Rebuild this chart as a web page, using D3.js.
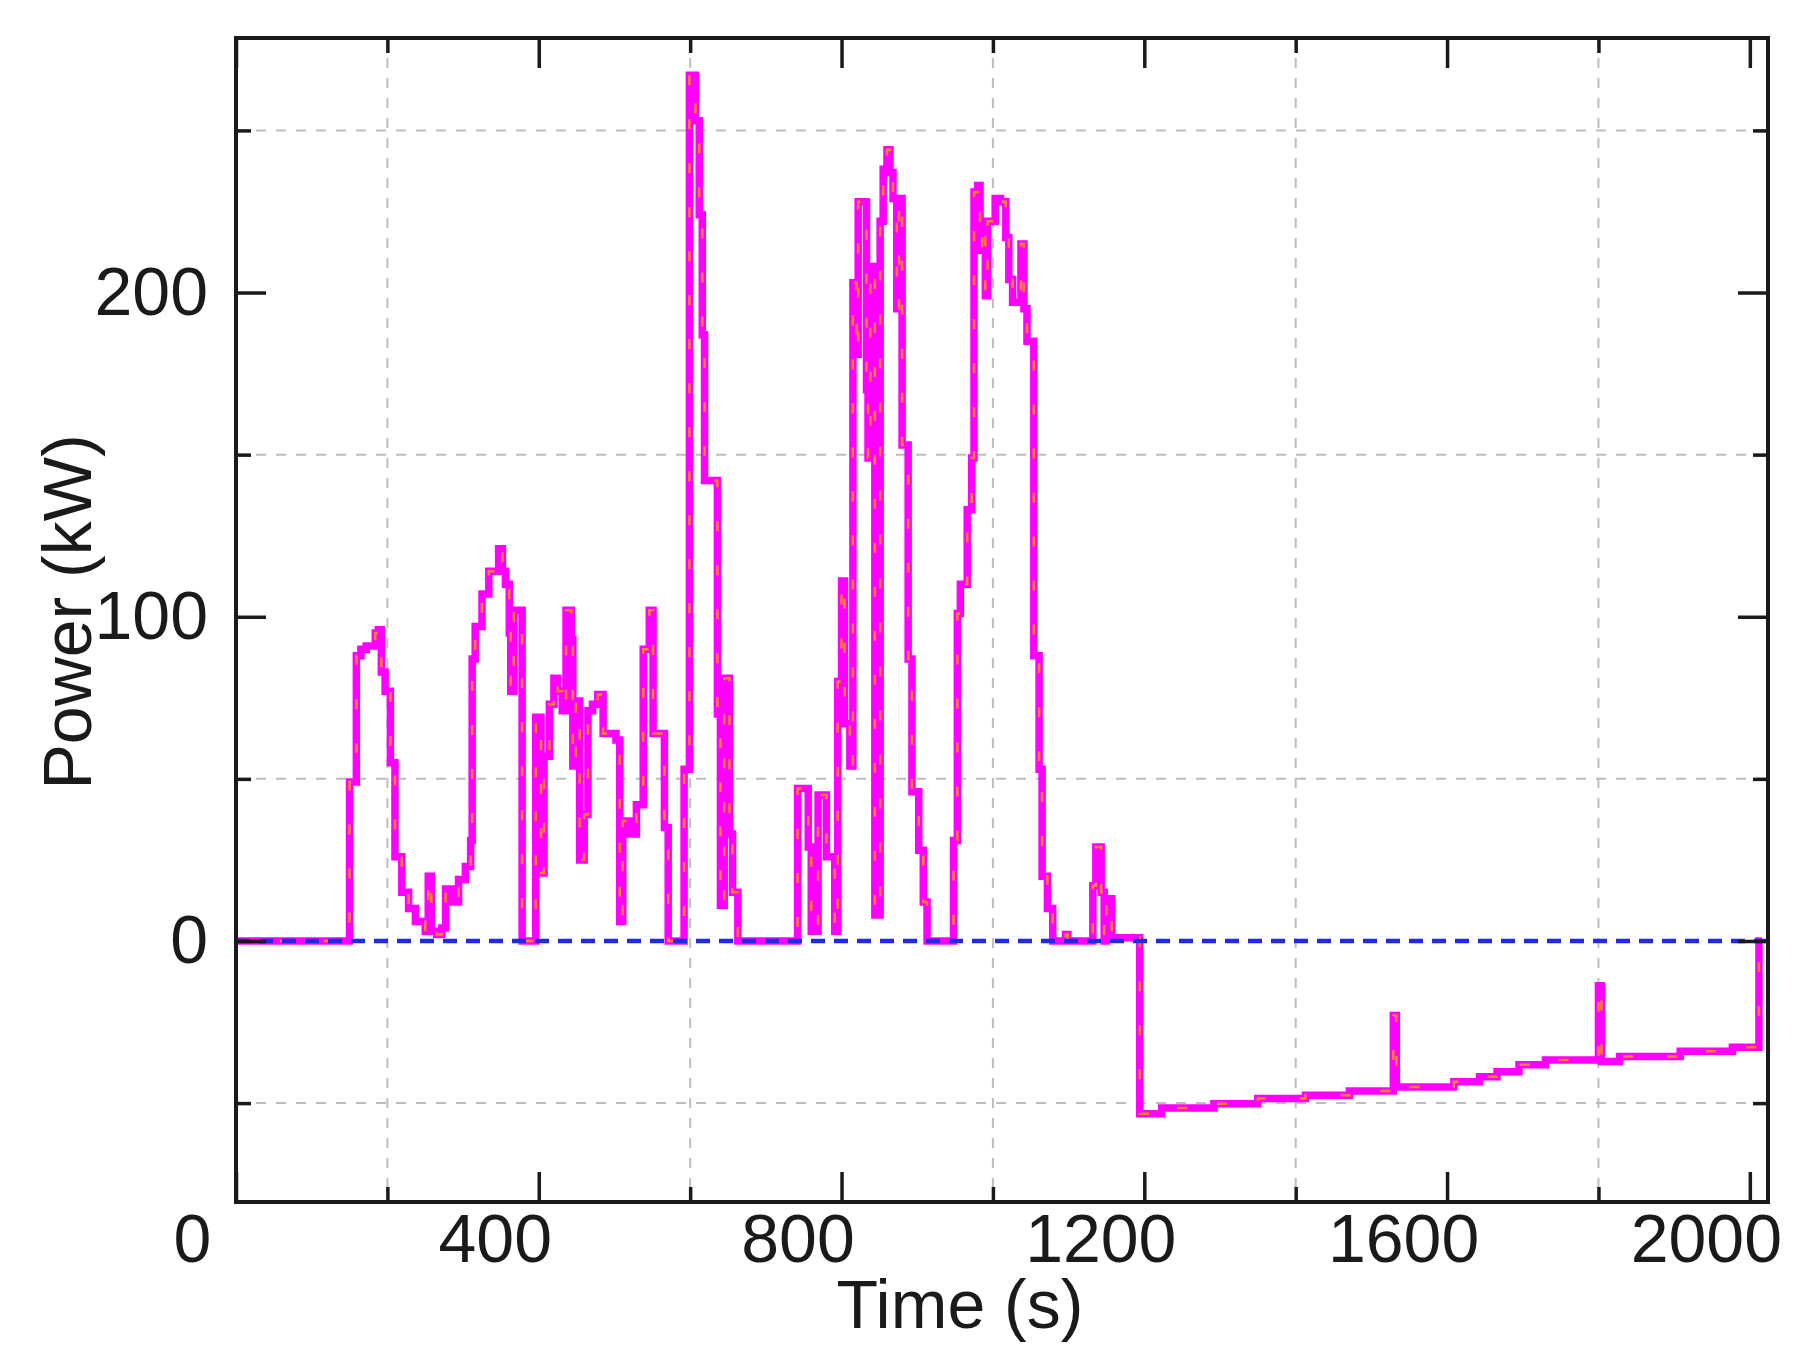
<!DOCTYPE html>
<html><head><meta charset="utf-8">
<script src="https://cdn.jsdelivr.net/npm/d3@7"></script>
<style>body{margin:0;background:#fff} text{font-family:"Liberation Sans",Arial,sans-serif;fill:#1a1a1a}</style>
</head><body>
<svg id="c" width="1794" height="1365"></svg>
<script>
// ---- data ----
const time = [0,150,159,165,172,184,188,192,197,204,210,219,228,237,250,254,258,265,272,277,285,294,303,310,312,316,325,334,347,352,356,361,363,367,378,
  396,403,407,414,420,425,431,436,443,445,449,454,460,465,471,478,485,502,507,511,520,529,538,546,551,566,571,
  592,599,607,612,616,619,636,640,645,652,656,663,742,756,760,769,780,791,795,800,804,811,815,820,822,833,835,838,844,851,855,860,864,868,873,876,880,888,893,902,908,913,
  948,953,957,966,972,975,980,983,986,990,993,1003,1010,1017,1021,1026,1037,1041,1045,1054,1061,1065,1072,1079,1096,1099,1132,1136,1143,1147,1150,1157,
  1194,1223,1292,1350,1413,1471,1529,1533,1609,1643,1666,1695,1730,1800,1804,1828,1908,1977,2012,2016];
const power = [0,49,88,90,91,95,96,83,77,55,26,15,10,6,3,20,3,2,4,16,12,19,23,31,87,97,107,114,121,114,110,95,77,102,0,
  69,21,57,73,81,77,71,102,93,54,74,25,39,71,73,76,64,62,6,37,33,42,90,102,64,35,0,
  53,267,253,224,187,142,70,11,81,33,15,0,47,29,3,45,26,3,80,111,67,54,203,181,228,170,149,208,8,222,238,244,237,229,195,229,153,87,46,28,12,0,
  31,101,110,133,149,231,233,213,222,199,222,229,228,217,204,197,215,195,185,88,53,20,10,0,2,0,17,29,15,0,13,1,
  -53.3,-51.5,-50.2,-48.6,-47.6,-46.3,-23,-45,-43.4,-41.9,-40.3,-38.2,-36.7,-13.8,-37.2,-35.6,-34,-32.8,0,0];
const zeroTime = [0, 2024];
const zeroPower = [0, 0];
const xMajorTicks = [0,400,800,1200,1600,2000];
const xMinorTicks = [200,600,1000,1400,1800];
const yMajorTicks = [0,100,200];
const yMinorTicks = [-50,50,150,250];
const xLabel = "Time (s)";
const yLabel = "Power (kW)";

// ---- layout ----
const L = 236, R = 1768, T = 38, B = 1202;
const svg = d3.select("#c");
svg.append("rect").attr("width",1794).attr("height",1365).attr("fill","#fff");
const x = d3.scaleLinear().domain([0, 2024]).range([L, R]);
const y = d3.scaleLinear().domain([-80.5, 278.5]).range([B, T]);

// grid
const grid = svg.append("g").attr("stroke","#bdbdbd").attr("stroke-width",2).attr("stroke-dasharray","10,10");
grid.selectAll("line.gx").data(xMinorTicks).join("line").attr("class","gx")
  .attr("x1",d=>x(d)).attr("x2",d=>x(d)).attr("y1",T).attr("y2",B);
grid.selectAll("line.gy").data(yMinorTicks).join("line").attr("class","gy")
  .attr("y1",d=>y(d)).attr("y2",d=>y(d)).attr("x1",L).attr("x2",R);

// series
const pts = time.map((t,i)=>[t,power[i]]);
const line = d3.line().x(d=>x(d[0])).y(d=>y(d[1])).curve(d3.curveStepAfter);
svg.append("path").datum(pts).attr("d",line).attr("fill","none")
  .attr("stroke","#ff00ff").attr("stroke-width",7.5).attr("stroke-linejoin","miter");
svg.append("path").datum(pts).attr("d",line).attr("fill","none")
  .attr("stroke","#ff9a00").attr("stroke-width",2.5).attr("stroke-dasharray","10,34").attr("opacity",0.85);
const zpts = zeroTime.map((t,i)=>[t,zeroPower[i]]);
svg.append("path").datum(zpts).attr("d",d3.line().x(d=>x(d[0])).y(d=>y(d[1]))).attr("fill","none")
  .attr("stroke","#1f2be0").attr("stroke-width",4.5).attr("stroke-dasharray","14,9");

// axes
const font = 68;
function styleAxis(g){ g.select(".domain").remove(); g.selectAll(".tick line").attr("stroke","#1a1a1a").attr("stroke-width",3.5); }
svg.append("g").attr("transform",`translate(0,${B})`)
  .call(d3.axisBottom(x).tickValues(xMajorTicks).tickSizeInner(-30).tickSizeOuter(0).tickPadding(12).tickFormat(d3.format("d")))
  .call(styleAxis)
  .call(g=>g.selectAll("text").attr("font-size",font).attr("dx",-44).attr("fill","#1a1a1a"));
svg.append("g").attr("transform",`translate(0,${B})`)
  .call(d3.axisBottom(x).tickValues(xMinorTicks).tickSizeInner(-15).tickSizeOuter(0).tickFormat(""))
  .call(styleAxis);
svg.append("g").attr("transform",`translate(0,${T})`)
  .call(d3.axisTop(x).tickValues(xMajorTicks).tickSizeInner(-30).tickSizeOuter(0).tickFormat(""))
  .call(styleAxis);
svg.append("g").attr("transform",`translate(0,${T})`)
  .call(d3.axisTop(x).tickValues(xMinorTicks).tickSizeInner(-15).tickSizeOuter(0).tickFormat(""))
  .call(styleAxis);
svg.append("g").attr("transform",`translate(${L},0)`)
  .call(d3.axisLeft(y).tickValues(yMajorTicks).tickSizeInner(-30).tickSizeOuter(0).tickPadding(28).tickFormat(d3.format("d")))
  .call(styleAxis)
  .call(g=>g.selectAll("text").attr("font-size",font).attr("fill","#1a1a1a"));
svg.append("g").attr("transform",`translate(${L},0)`)
  .call(d3.axisLeft(y).tickValues(yMinorTicks).tickSizeInner(-15).tickSizeOuter(0).tickFormat(""))
  .call(styleAxis);
svg.append("g").attr("transform",`translate(${R},0)`)
  .call(d3.axisRight(y).tickValues(yMajorTicks).tickSizeInner(-30).tickSizeOuter(0).tickFormat(""))
  .call(styleAxis);
svg.append("g").attr("transform",`translate(${R},0)`)
  .call(d3.axisRight(y).tickValues(yMinorTicks).tickSizeInner(-15).tickSizeOuter(0).tickFormat(""))
  .call(styleAxis);

// frame
svg.append("rect").attr("x",L).attr("y",T).attr("width",R-L).attr("height",B-T)
  .attr("fill","none").attr("stroke","#1a1a1a").attr("stroke-width",4);

// labels
svg.append("text").attr("x",960).attr("y",1328).attr("text-anchor","middle").attr("font-size",font).text(xLabel);
svg.append("text").attr("transform","translate(91,612) rotate(-90)").attr("text-anchor","middle").attr("font-size",font).text(yLabel);
</script>
</body></html>
